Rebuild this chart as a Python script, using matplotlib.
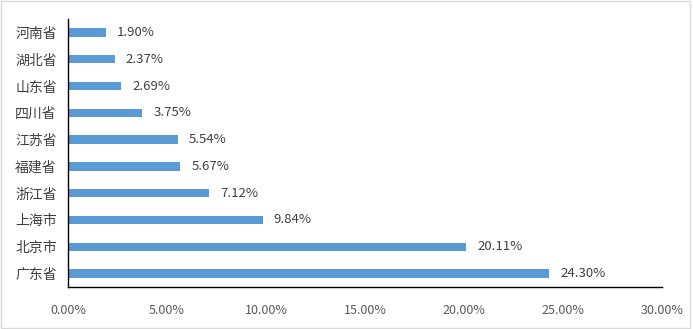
import matplotlib.pyplot as plt
from matplotlib.ticker import PercentFormatter

plt.rcParams['font.family'] = ['Noto Sans CJK SC', 'DejaVu Sans']

provinces = ['广东省', '北京市', '上海市', '浙江省', '福建省', '江苏省', '四川省', '山东省', '湖北省', '河南省']
shares = [24.30, 20.11, 9.84, 7.12, 5.67, 5.54, 3.75, 2.69, 2.37, 1.90]

fig = plt.figure(figsize=(6.93, 3.29), dpi=100)
ax = fig.add_axes([0.098, 0.128, 0.857, 0.814])

bars = ax.barh(provinces, shares, height=0.31, color='#5B9BD5')
for b, v in zip(bars, shares):
    ax.annotate('%.2f%%' % v, (b.get_width(), b.get_y() + b.get_height() / 2),
                xytext=(8, 0), textcoords='offset points', va='center', ha='left',
                fontsize=9.5, color='#404040')

ax.set_xlim(0, 30)
ax.set_ylim(-0.5, 9.5)
ax.set_xticks(range(0, 31, 5))
ax.xaxis.set_major_formatter(PercentFormatter(decimals=2))
ax.tick_params(axis='x', length=0, pad=12, labelsize=9, labelcolor='#595959')
ax.tick_params(axis='y', length=0, pad=8, labelsize=10, labelcolor='#404040')

for s in ['top', 'right']:
    ax.spines[s].set_visible(False)
for s in ['left', 'bottom']:
    ax.spines[s].set_color('black')
    ax.spines[s].set_linewidth(1)

# thin grey frame round the whole chart
fig.patches.append(plt.Rectangle((0.002, 0.003), 0.994, 0.993, transform=fig.transFigure,
                                 fill=False, edgecolor='#D9D9D9', linewidth=1))

fig.savefig('out.png', dpi=100)
